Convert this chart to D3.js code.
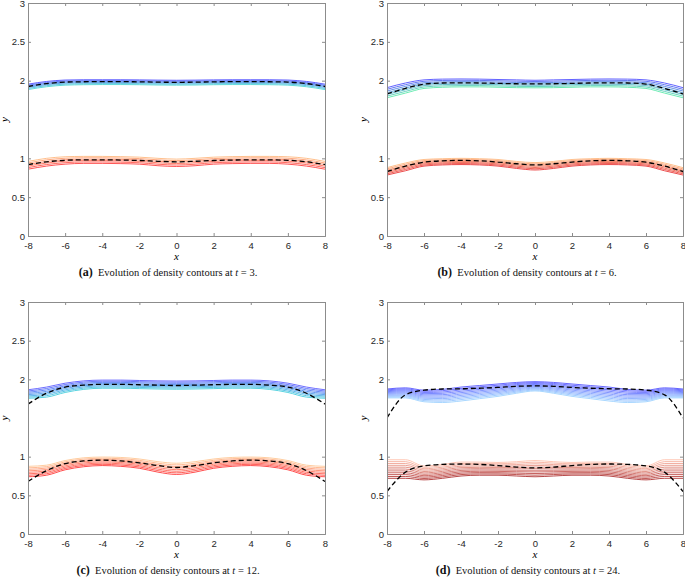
<!DOCTYPE html>
<html>
<head>
<meta charset="utf-8">
<script src="https://cdn.jsdelivr.net/npm/d3@7"></script>
<style>
  body { margin: 0; background: #fff; }
  svg { display: block; }
  .tick text { font-family: "Liberation Sans", Arial, sans-serif; font-size: 9.5px; fill: #262626; }
  .domain, .tick line { stroke: #8c8c8c; }
</style>
</head>
<body>
<svg id="chart" width="685" height="579"></svg>
<script>
// sample points along x for every curve
var xs = [-8,-7,-6,-5,-4,-3,-2,-1,0,1,2,3,4,5,6,7,8];
var xTicks = [-8,-6,-4,-2,0,2,4,6,8];
var yTicks = [0,0.5,1,2,2.5,3];

// (a) t = 3
var aUpperDash = [1.925,1.962,1.982,1.986,1.987,1.987,1.985,1.981,1.979,1.981,1.985,1.987,1.987,1.986,1.982,1.962,1.925];
var aUpperTop  = [1.955,1.99,2.008,2.012,2.012,2.012,2.01,2.007,2.005,2.007,2.01,2.012,2.012,2.012,2.008,1.99,1.955];
var aUpperBot  = [1.885,1.922,1.942,1.948,1.95,1.95,1.948,1.944,1.942,1.944,1.948,1.95,1.95,1.948,1.942,1.922,1.885];
var aLowerDash = [0.92,0.955,0.975,0.98,0.98,0.978,0.972,0.962,0.955,0.962,0.972,0.978,0.98,0.98,0.975,0.955,0.92];
var aLowerTop  = [0.96,1.0,1.02,1.025,1.025,1.022,1.015,1.0,0.99,1.0,1.015,1.022,1.025,1.025,1.02,1.0,0.96];
var aLowerBot  = [0.86,0.9,0.925,0.935,0.935,0.932,0.925,0.905,0.895,0.905,0.925,0.932,0.935,0.935,0.925,0.9,0.86];

// (b) t = 6
var bUpperDash = [1.83,1.9,1.955,1.97,1.972,1.97,1.965,1.96,1.958,1.96,1.965,1.97,1.972,1.97,1.955,1.9,1.83];
var bUpperTop  = [1.91,1.97,2.01,2.02,2.022,2.02,2.015,2.01,2.005,2.01,2.015,2.02,2.022,2.02,2.01,1.97,1.91];
var bUpperBot  = [1.78,1.84,1.9,1.915,1.92,1.92,1.915,1.91,1.908,1.91,1.915,1.92,1.92,1.915,1.9,1.84,1.78];
var bLowerDash = [0.83,0.9,0.95,0.968,0.973,0.968,0.952,0.93,0.915,0.93,0.952,0.968,0.973,0.968,0.95,0.9,0.83];
var bLowerTop  = [0.88,0.94,0.985,0.995,1.0,0.995,0.985,0.96,0.945,0.96,0.985,0.995,1.0,0.995,0.985,0.94,0.88];
var bLowerBot  = [0.785,0.84,0.9,0.915,0.92,0.915,0.9,0.87,0.85,0.87,0.9,0.915,0.92,0.915,0.9,0.84,0.785];

// (c) t = 12
var cUpperDash = [1.68,1.82,1.9,1.925,1.935,1.935,1.93,1.925,1.92,1.925,1.93,1.935,1.935,1.925,1.9,1.82,1.68];
var cUpperTop  = [1.865,1.9,1.95,1.98,1.99,1.99,1.985,1.98,1.978,1.98,1.985,1.99,1.99,1.98,1.95,1.9,1.865];
var cUpperBot  = [1.755,1.77,1.83,1.87,1.885,1.885,1.88,1.875,1.872,1.875,1.88,1.885,1.885,1.87,1.83,1.77,1.755];
var cLowerDash = [0.68,0.82,0.91,0.945,0.955,0.945,0.92,0.885,0.86,0.885,0.92,0.945,0.955,0.945,0.91,0.82,0.68];
var cLowerTop  = [0.875,0.89,0.95,0.985,0.995,0.99,0.97,0.935,0.915,0.935,0.97,0.99,0.995,0.985,0.95,0.89,0.875];
var cLowerBot  = [0.74,0.76,0.83,0.87,0.885,0.875,0.85,0.8,0.77,0.8,0.85,0.875,0.885,0.87,0.83,0.76,0.74];

// (d) t = 24
var dUpperDash = [1.5,1.8,1.86,1.875,1.878,1.885,1.895,1.91,1.915,1.91,1.895,1.885,1.878,1.875,1.86,1.8,1.5];
var dUpperTop  = [1.875,1.89,1.86,1.87,1.9,1.92,1.94,1.96,1.97,1.96,1.94,1.92,1.9,1.87,1.86,1.89,1.875];
var dUpperBot  = [1.76,1.76,1.71,1.7,1.72,1.75,1.78,1.82,1.85,1.82,1.78,1.75,1.72,1.7,1.71,1.76,1.76];
var dLowerDash = [0.55,0.8,0.88,0.9,0.905,0.9,0.885,0.865,0.855,0.865,0.885,0.9,0.905,0.9,0.88,0.8,0.55];
var dLowerTop  = [0.96,0.96,0.88,0.9,0.93,0.93,0.925,0.935,0.95,0.935,0.925,0.93,0.93,0.9,0.88,0.96,0.96];
var dLowerBot  = [0.72,0.72,0.7,0.72,0.75,0.76,0.76,0.75,0.74,0.75,0.76,0.76,0.75,0.72,0.7,0.72,0.72];

var panels = [
  { id: "a", t: "3", box: [28, 325, 3, 236], levels: 6, lw: 0.8,
    upper: [aUpperTop, aUpperBot, "#3a3aff", "#3cd2d2"], lower: [aLowerTop, aLowerBot, "#ffb070", "#ff2a2a"],
    dash: [aUpperDash, aLowerDash], cap: 168 },
  { id: "b", t: "6", box: [387, 683, 3, 236], levels: 7, lw: 0.8,
    upper: [bUpperTop, bUpperBot, "#3a3aff", "#46e6a0"], lower: [bLowerTop, bLowerBot, "#ffb070", "#e62020"],
    dash: [bUpperDash, bLowerDash], cap: 527 },
  { id: "c", t: "12", box: [28, 325, 302, 534], levels: 8, lw: 0.8,
    upper: [cUpperTop, cUpperBot, "#4848ff", "#30c8d8"], lower: [cLowerTop, cLowerBot, "#ffc088", "#ff2020"],
    dash: [cUpperDash, cLowerDash], cap: 168 },
  { id: "d", t: "24", box: [387, 683, 302, 534], levels: 11, lw: 0.75,
    upper: [dUpperTop, dUpperBot, "#3434ff", "#8ccaff"], lower: [dLowerTop, dLowerBot, "#ffb49c", "#a00c0c"],
    dash: [dUpperDash, dLowerDash], cap: 528 }
];

var svg = d3.select("#chart");

panels.forEach(function(p) {
  var x = d3.scaleLinear().domain([-8, 8]).range([p.box[0], p.box[1]]);
  var y = d3.scaleLinear().domain([0, 3]).range([p.box[3], p.box[2]]);
  var g = svg.append("g");

  g.append("clipPath").attr("id", "clip-" + p.id)
    .append("rect")
      .attr("x", p.box[0]).attr("y", p.box[2])
      .attr("width", p.box[1] - p.box[0]).attr("height", p.box[3] - p.box[2]);

  var line = d3.line()
    .x(function(d) { return x(d[0]); })
    .y(function(d) { return y(d[1]); })
    .curve(d3.curveMonotoneX);

  var plot = g.append("g").attr("clip-path", "url(#clip-" + p.id + ")");

  // contour bands: levels spread between top and bottom edge
  [p.upper, p.lower].forEach(function(band) {
    var col = d3.interpolateRgb(band[2], band[3]);
    d3.range(p.levels).forEach(function(k) {
      var f = k / (p.levels - 1);
      var pts = xs.map(function(xv, i) {
        return [xv, band[0][i] + (band[1][i] - band[0][i]) * f];
      });
      plot.append("path")
        .attr("d", line(pts))
        .attr("fill", "none")
        .attr("stroke", col(f))
        .attr("stroke-width", p.lw);
    });
  });

  p.dash.forEach(function(arr) {
    plot.append("path")
      .attr("d", line(xs.map(function(xv, i) { return [xv, arr[i]]; })))
      .attr("fill", "none")
      .attr("stroke", "#000")
      .attr("stroke-width", 1.3)
      .attr("stroke-dasharray", "5,3");
  });

  // axes, ticks pointing in
  g.append("g").attr("transform", "translate(0," + p.box[3] + ")")
    .call(d3.axisBottom(x).tickValues(xTicks).tickSize(-3).tickPadding(6).tickFormat(function(d) { return String(d); }));
  g.append("g").attr("transform", "translate(0," + p.box[2] + ")")
    .call(d3.axisTop(x).tickValues(xTicks).tickSize(-3).tickFormat(""));
  g.append("g").attr("transform", "translate(" + p.box[0] + ",0)")
    .call(d3.axisLeft(y).tickValues(yTicks).tickSize(-3).tickPadding(3).tickFormat(function(d) { return String(d); }));
  g.append("g").attr("transform", "translate(" + p.box[1] + ",0)")
    .call(d3.axisRight(y).tickValues(yTicks).tickSize(-3).tickFormat(""));
  g.selectAll(".domain").attr("stroke", "#8c8c8c");

  g.append("text")
    .attr("x", (p.box[0] + p.box[1]) / 2).attr("y", p.box[3] + 24)
    .attr("text-anchor", "middle")
    .style("font-family", "Liberation Serif, serif").style("font-style", "italic").style("font-size", "11px")
    .text("x");
  g.append("text")
    .attr("transform", "translate(" + (p.box[0] - 20) + "," + ((p.box[2] + p.box[3]) / 2) + ") rotate(-90)")
    .attr("text-anchor", "middle")
    .style("font-family", "Liberation Serif, serif").style("font-style", "italic").style("font-size", "11px")
    .text("y");

  var cap = g.append("text")
    .attr("x", p.cap).attr("y", p.box[3] + 40)
    .attr("text-anchor", "middle")
    .style("font-family", "Liberation Serif, serif").style("font-size", "10.5px").attr("fill", "#111");
  cap.append("tspan").style("font-weight", "bold").style("font-size", "12px").text("(" + p.id + ")");
  cap.append("tspan").text("\u2002Evolution of density contours at ");
  cap.append("tspan").style("font-style", "italic").text("t");
  cap.append("tspan").text(" = " + p.t + ".");
});
</script>
</body>
</html>
